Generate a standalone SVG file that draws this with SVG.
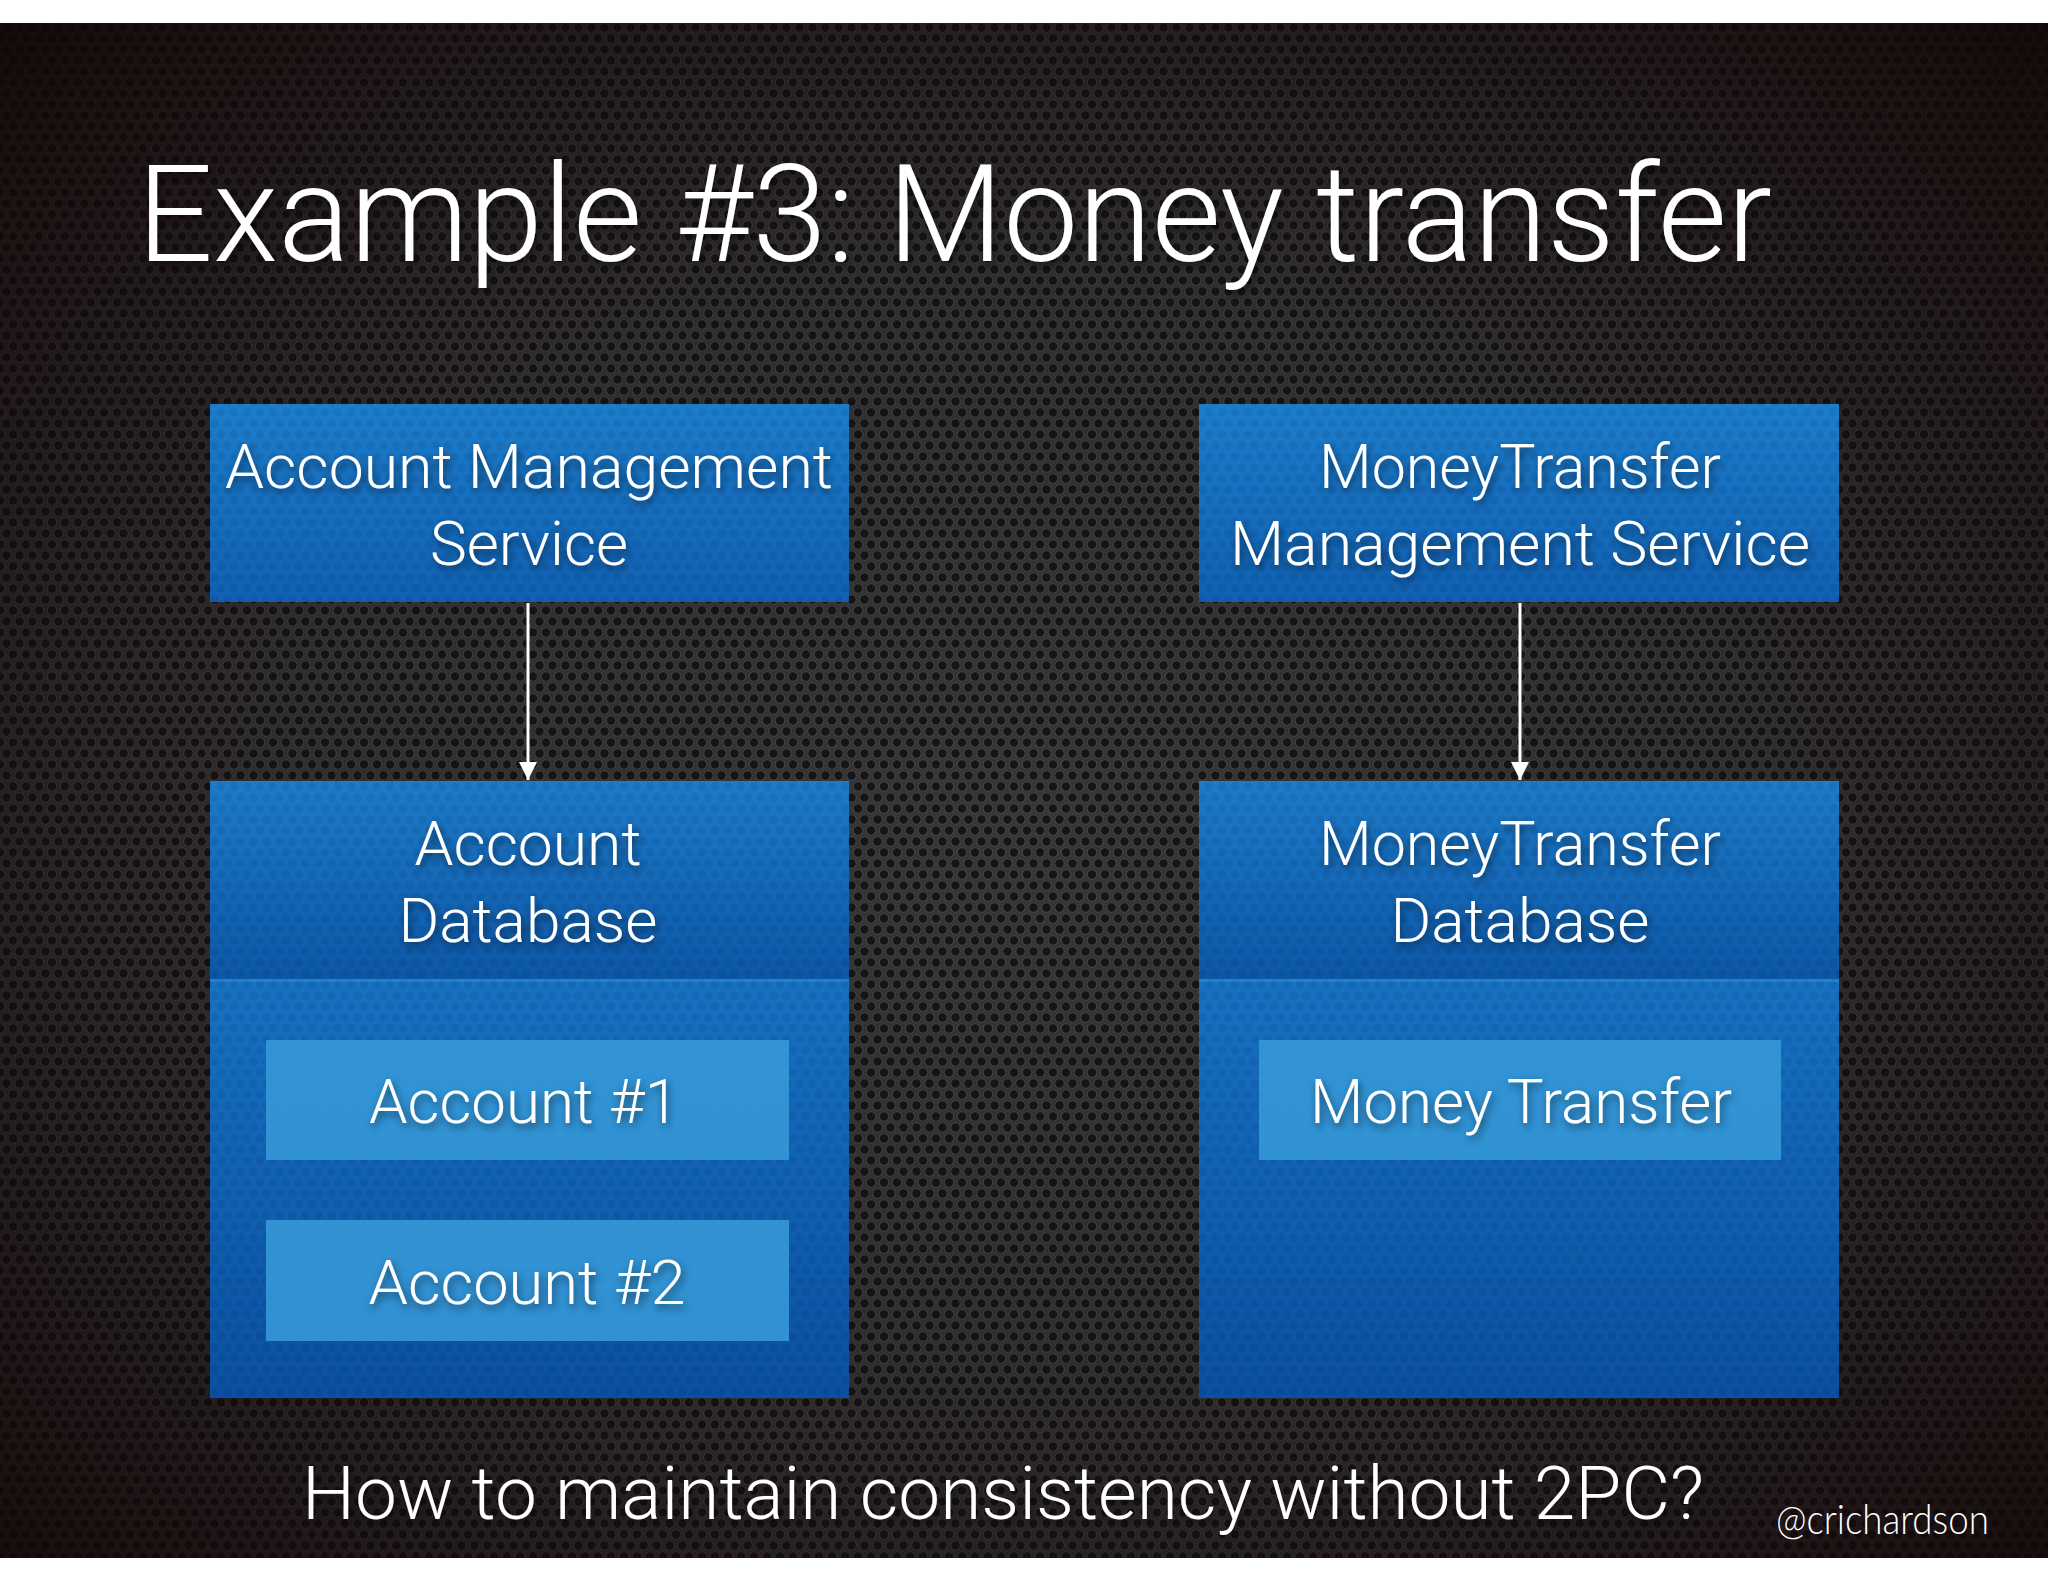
<svg xmlns="http://www.w3.org/2000/svg" width="2048" height="1582" viewBox="0 0 2048 1582">
  <defs>
    <pattern id="perf" width="13" height="22" patternUnits="userSpaceOnUse">
      <rect width="13" height="22" fill="#363637"/>
      <circle cx="6.5" cy="5.5" r="5.3" fill="#444446"/>
      <circle cx="6.5" cy="5.5" r="4.2" fill="#151517"/>
      <circle cx="0" cy="16.5" r="5.3" fill="#444446"/>
      <circle cx="0" cy="16.5" r="4.2" fill="#151517"/>
      <circle cx="13" cy="16.5" r="5.3" fill="#444446"/>
      <circle cx="13" cy="16.5" r="4.2" fill="#151517"/>
    </pattern>
    <pattern id="perfB" width="13" height="22" patternUnits="userSpaceOnUse">
      <circle cx="6.5" cy="5.5" r="4.2" fill="#000" fill-opacity="0.07"/>
      <circle cx="0" cy="16.5" r="4.2" fill="#000" fill-opacity="0.07"/>
      <circle cx="13" cy="16.5" r="4.2" fill="#000" fill-opacity="0.07"/>
    </pattern>
    <radialGradient id="vign" cx="0.5" cy="0.52" r="0.72">
      <stop offset="0" stop-color="#140808" stop-opacity="0"/>
      <stop offset="0.5" stop-color="#140808" stop-opacity="0.2"/>
      <stop offset="1" stop-color="#120606" stop-opacity="0.92"/>
    </radialGradient>
    <linearGradient id="svcG" x1="0" y1="0" x2="0" y2="1">
      <stop offset="0" stop-color="#1c7dcc"/>
      <stop offset="1" stop-color="#1060b3"/>
    </linearGradient>
    <linearGradient id="hdrG" x1="0" y1="0" x2="0" y2="1">
      <stop offset="0" stop-color="#1d7bca"/>
      <stop offset="1" stop-color="#0c57a8"/>
    </linearGradient>
    <linearGradient id="bodyG" x1="0" y1="0" x2="0" y2="1">
      <stop offset="0" stop-color="#1d81d2"/>
      <stop offset="1" stop-color="#0a50a2"/>
    </linearGradient>
    <filter id="sh" x="-10%" y="-30%" width="120%" height="160%">
      <feDropShadow dx="2" dy="4" stdDeviation="4" flood-color="#000" flood-opacity="0.55"/>
    </filter>
    <marker id="arr" viewBox="0 0 18 18" refX="18" refY="9" markerWidth="18" markerHeight="18" markerUnits="userSpaceOnUse" orient="auto">
      <path d="M0,0 L18,9 L0,18 Z" fill="#ffffff"/>
    </marker>
    <style>
      .t { fill: #ffffff; font-family: "Roboto", "Liberation Sans", sans-serif; font-weight: 300; text-anchor: middle; }
      .lbl { font-size: 62px; }
      .big { font-size: 62px; }
      .svc { fill: url(#svcG); }
      .hdr { fill: url(#hdrG); }
      .body { fill: url(#bodyG); }
      .inner { fill: #3598d8; fill-opacity: 0.9; }
      .tex { fill: url(#perfB); }
      .edge { stroke: #ffffff; stroke-width: 3; fill: none; }
    </style>
  </defs>

  <!-- background -->
  <rect x="0" y="0" width="2048" height="1582" fill="#ffffff"/>
  <rect x="0" y="23" width="2048" height="1535" fill="url(#perf)"/>
  <rect x="0" y="23" width="2048" height="1535" fill="url(#vign)"/>

  <text class="t" x="137" y="261" font-size="135" style="text-anchor:start" textLength="1635" lengthAdjust="spacingAndGlyphs" filter="url(#sh)">Example #3: Money transfer</text>

  <g id="connectors">
    <line class="edge" x1="528" y1="603" x2="528" y2="780" marker-end="url(#arr)"/>
    <line class="edge" x1="1520" y1="603" x2="1520" y2="780" marker-end="url(#arr)"/>
  </g>

  <g id="account-management-service">
    <rect class="svc" x="210" y="404" width="639" height="198"/>
    <rect class="tex" x="210" y="404" width="639" height="198"/>
    <text class="t lbl" x="529" y="488" textLength="608" lengthAdjust="spacingAndGlyphs" filter="url(#sh)">Account Management</text>
    <text class="t lbl" x="529" y="565" textLength="198" lengthAdjust="spacingAndGlyphs" filter="url(#sh)">Service</text>
  </g>

  <g id="moneytransfer-management-service">
    <rect class="svc" x="1199" y="404" width="640" height="198"/>
    <rect class="tex" x="1199" y="404" width="640" height="198"/>
    <text class="t lbl" x="1520" y="488" textLength="402" lengthAdjust="spacingAndGlyphs" filter="url(#sh)">MoneyTransfer</text>
    <text class="t lbl" x="1520" y="565" textLength="580" lengthAdjust="spacingAndGlyphs" filter="url(#sh)">Management Service</text>
  </g>

  <g id="account-database">
    <rect class="body" x="210" y="781" width="639" height="617"/>
    <rect class="hdr" x="210" y="781" width="639" height="199"/>
    <rect x="210" y="979" width="639" height="3" fill="#2a8bd8" fill-opacity="0.7"/>
    <rect class="tex" x="210" y="781" width="639" height="617"/>
    <text class="t lbl" x="528" y="865" textLength="227" lengthAdjust="spacingAndGlyphs" filter="url(#sh)">Account</text>
    <text class="t lbl" x="528" y="942" textLength="259" lengthAdjust="spacingAndGlyphs" filter="url(#sh)">Database</text>
  </g>

  <g id="account-1">
    <rect class="inner" x="266" y="1040" width="523" height="120"/>
    <text class="t big" x="524" y="1123" textLength="310" lengthAdjust="spacingAndGlyphs" filter="url(#sh)">Account #1</text>
  </g>

  <g id="account-2">
    <rect class="inner" x="266" y="1220" width="523" height="121"/>
    <text class="t big" x="527" y="1304" textLength="317" lengthAdjust="spacingAndGlyphs" filter="url(#sh)">Account #2</text>
  </g>

  <g id="moneytransfer-database">
    <rect class="body" x="1199" y="781" width="640" height="617"/>
    <rect class="hdr" x="1199" y="781" width="640" height="199"/>
    <rect x="1199" y="979" width="640" height="3" fill="#2a8bd8" fill-opacity="0.7"/>
    <rect class="tex" x="1199" y="781" width="640" height="617"/>
    <text class="t lbl" x="1520" y="865" textLength="402" lengthAdjust="spacingAndGlyphs" filter="url(#sh)">MoneyTransfer</text>
    <text class="t lbl" x="1520" y="942" textLength="259" lengthAdjust="spacingAndGlyphs" filter="url(#sh)">Database</text>
  </g>

  <g id="money-transfer">
    <rect class="inner" x="1259" y="1040" width="522" height="120"/>
    <text class="t big" x="1521" y="1123" textLength="422" lengthAdjust="spacingAndGlyphs" filter="url(#sh)">Money Transfer</text>
  </g>

  <text class="t" x="1003" y="1519" font-size="75" textLength="1402" lengthAdjust="spacingAndGlyphs" filter="url(#sh)">How to maintain consistency without 2PC?</text>
  <text x="1776" y="1534" font-size="42" fill="#ffffff" font-family="Lato, 'Liberation Sans', sans-serif" font-weight="300" textLength="213" lengthAdjust="spacingAndGlyphs">@crichardson</text>
</svg>
